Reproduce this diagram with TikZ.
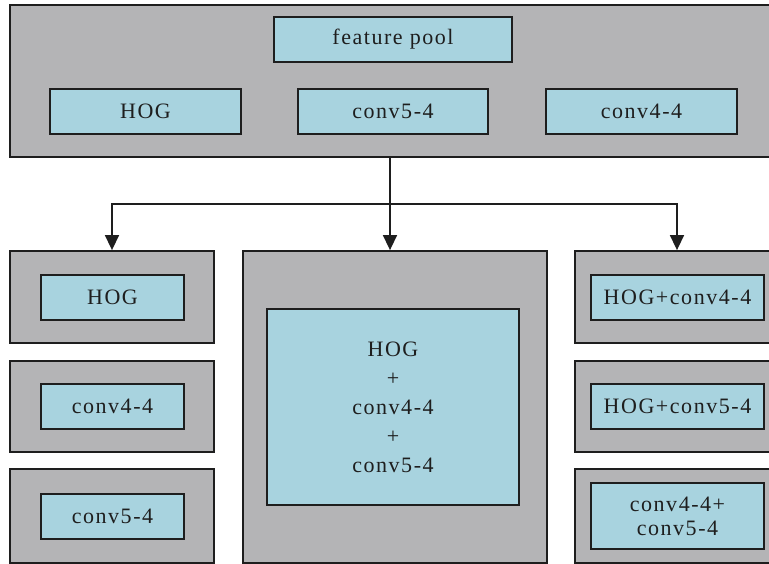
\documentclass[tikz,border=0pt]{standalone}
\usepackage{fontspec}
\setmainfont[LetterSpace=7]{Liberation Serif}
\usetikzlibrary{arrows.meta}
\definecolor{boxgray}{HTML}{B4B4B6}
\definecolor{boxblue}{HTML}{A8D3DF}
\definecolor{ink}{HTML}{1E1E1E}
\tikzset{
  outerbox/.style={draw=ink, fill=boxgray, line width=1.8pt, inner sep=0pt},
  innerbox/.style={draw=ink, fill=boxblue, line width=1.8pt, inner sep=0pt,
    font=\fontsize{22}{24}\selectfont, text=ink, align=center},
  conn/.style={draw=ink, line width=1.5pt},
  arr/.style={conn, -{Triangle[width=14pt,length=15pt]}}
}
\begin{document}
\begin{tikzpicture}[x=1pt,y=-1pt]
\clip (0,0) rectangle (769,564);
\fill[white] (0,0) rectangle (769,564);
% top
\node[outerbox, minimum width=762pt, minimum height=152pt] (top) at (391,81) {};
\node[innerbox, minimum width=238pt, minimum height=45pt] (pool) at (393,39.5) {feature pool};
\node[innerbox, minimum width=191pt, minimum height=45pt] (hogA) at (145.5,111.5) {HOG};
\node[innerbox, minimum width=190pt, minimum height=45pt] (cfiveA) at (393,111.5) {conv5-4};
\node[innerbox, minimum width=191pt, minimum height=45pt] (cfourA) at (641.5,111.5) {conv4-4};
% left column
\node[outerbox, minimum width=204pt, minimum height=92pt] (L1) at (112,297) {};
\node[outerbox, minimum width=204pt, minimum height=91pt] (L2) at (112,406.5) {};
\node[outerbox, minimum width=204pt, minimum height=94pt] (L3) at (112,516) {};
\node[innerbox, minimum width=143pt, minimum height=45pt] (l1) at (112.5,297.5) {HOG};
\node[innerbox, minimum width=143pt, minimum height=45pt] (l2) at (112.5,406.5) {conv4-4};
\node[innerbox, minimum width=143pt, minimum height=45pt] (l3) at (112.5,516.5) {conv5-4};
% middle
\node[outerbox, minimum width=304pt, minimum height=312pt] (M) at (395,407) {};
\node[innerbox, minimum width=252pt, minimum height=196pt,
  font=\fontsize{22}{29}\selectfont] (m) at (393,407) {HOG\\+\\conv4-4\\+\\conv5-4};
% right column
\node[outerbox, minimum width=204pt, minimum height=92pt] (R1) at (677,297) {};
\node[outerbox, minimum width=204pt, minimum height=91pt] (R2) at (677,406.5) {};
\node[outerbox, minimum width=204pt, minimum height=94pt] (R3) at (677,516) {};
\node[innerbox, minimum width=173pt, minimum height=45pt] (r1) at (677.5,297.5) {HOG+conv4-4};
\node[innerbox, minimum width=173pt, minimum height=45pt] (r2) at (677.5,406.5) {HOG+conv5-4};
\node[innerbox, minimum width=173pt, minimum height=66pt,
  font=\fontsize{22}{24}\selectfont] (r3) at (677.5,516) {conv4-4+\\conv5-4};
% connectors
\coordinate (j) at (390,204);
\draw[conn] (top.south -| j) -- (j);
\draw[arr] (j) -| (L1.north);
\draw[arr] (j) -- (M.north -| j);
\draw[arr] (j) -| (R1.north);
\end{tikzpicture}
\end{document}
